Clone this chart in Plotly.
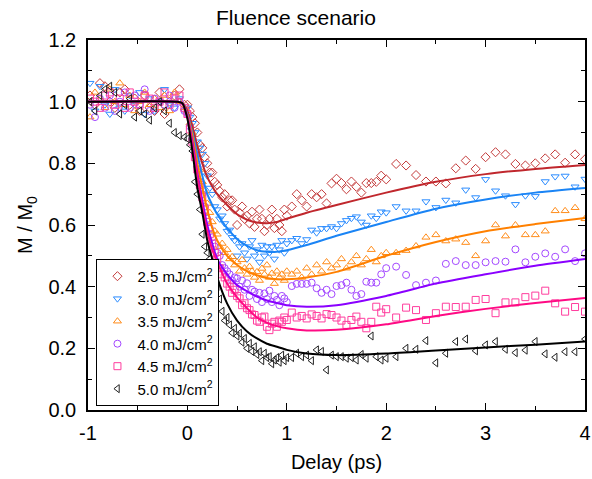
import plotly.graph_objects as go

# ---------------- data ----------------
T_PRE = [-0.98, -0.93, -0.88, -0.83, -0.78, -0.73, -0.68, -0.63, -0.58, -0.53,
         -0.48, -0.43, -0.38, -0.33, -0.28, -0.23, -0.18, -0.13, -0.08, -0.03]
T_FAST = [0.0, 0.025, 0.05, 0.075, 0.1, 0.125, 0.15, 0.175, 0.2, 0.225, 0.25,
          0.275, 0.3, 0.325, 0.35, 0.375, 0.4, 0.425, 0.45, 0.475, 0.5, 0.525,
          0.55, 0.575, 0.6, 0.625, 0.65, 0.675, 0.7, 0.725, 0.75, 0.775, 0.8,
          0.825, 0.85, 0.875, 0.9, 0.925, 0.95, 0.975, 1.0]
T_MID = [1.05, 1.1, 1.15, 1.2, 1.25, 1.3, 1.35, 1.4, 1.45, 1.5, 1.55, 1.6,
         1.65, 1.7, 1.75, 1.8, 1.85, 1.9, 1.95]
T_TAIL = [2.0, 2.1, 2.2, 2.3, 2.4, 2.5, 2.6, 2.7, 2.8, 2.9, 3.0, 3.1, 3.2,
          3.3, 3.4, 3.5, 3.6, 3.7, 3.8, 3.9, 4.0]
DELAY = T_PRE + T_FAST + T_MID + T_TAIL

M_25 = [1.02, 0.99, 1.06, 1.05, 1.00, 0.98, 1.03, 1.04, 0.99, 1.01, 0.97, 1.02, 0.98, 0.97, 1.03, 0.96, 1.00, 1.02, 1.04, 0.99,
        0.99, 0.97, 0.95, 0.93, 0.90, 0.86, 0.85, 0.82, 0.80, 0.77, 0.77, 0.74, 0.73, 0.71, 0.69, 0.70, 0.66, 0.68, 0.68, 0.65,
        0.60, 0.64, 0.66, 0.62, 0.63, 0.605, 0.643, 0.594, 0.62, 0.65, 0.62, 0.58, 0.60, 0.62, 0.65, 0.59, 0.62, 0.60, 0.58, 0.65, 0.63,
        0.66, 0.70, 0.68, 0.66, 0.70, 0.69, 0.70, 0.67, 0.735, 0.75, 0.736, 0.716, 0.741, 0.724, 0.705, 0.736, 0.736, 0.74, 0.76,
        0.748, 0.798, 0.793, 0.762, 0.741, 0.741, 0.735, 0.784, 0.809, 0.782, 0.82, 0.836, 0.829, 0.798, 0.793, 0.80, 0.816, 0.829, 0.802, 0.829, 0.813]
M_30 = [1.06, 0.97, 1.05, 0.99, 0.96, 1.04, 0.98, 0.97, 1.02, 0.99, 1.03, 0.96, 1.01, 0.97, 1.00, 1.04, 0.99, 0.98, 1.01, 0.97,
        0.98, 0.95, 0.93, 0.90, 0.87, 0.85, 0.83, 0.80, 0.76, 0.72, 0.70, 0.66, 0.65, 0.62, 0.63, 0.605, 0.58, 0.584, 0.56, 0.55,
        0.50, 0.53, 0.54, 0.51, 0.49, 0.53, 0.55, 0.50, 0.52, 0.48, 0.535, 0.50, 0.53, 0.51, 0.53, 0.49, 0.535, 0.52, 0.55, 0.51, 0.54,
        0.55, 0.557, 0.54, 0.553, 0.584, 0.575, 0.589, 0.589, 0.595, 0.589, 0.605, 0.615, 0.622, 0.627, 0.61, 0.60, 0.63, 0.622, 0.643,
        0.64, 0.66, 0.646, 0.646, 0.676, 0.657, 0.681, 0.672, 0.714, 0.689, 0.748, 0.711, 0.695, 0.667, 0.695, 0.693, 0.741, 0.757, 0.759, 0.724, 0.749]
M_35 = [0.95, 1.03, 1.01, 0.98, 1.04, 1.00, 1.06, 0.99, 1.02, 0.97, 1.00, 1.03, 0.99, 1.01, 0.98, 1.02, 0.97, 1.03, 1.00, 0.98,
        0.97, 0.93, 0.90, 0.86, 0.82, 0.78, 0.74, 0.71, 0.67, 0.64, 0.61, 0.58, 0.57, 0.53, 0.54, 0.51, 0.52, 0.49, 0.497, 0.47,
        0.48, 0.45, 0.487, 0.46, 0.44, 0.465, 0.45, 0.43, 0.448, 0.42, 0.459, 0.44, 0.47, 0.43, 0.443, 0.41, 0.45, 0.43, 0.44, 0.42, 0.45,
        0.44, 0.45, 0.43, 0.46, 0.44, 0.47, 0.45, 0.48, 0.46, 0.47, 0.49, 0.46, 0.48, 0.50, 0.47, 0.49, 0.52, 0.48, 0.50,
        0.51, 0.51, 0.517, 0.532, 0.56, 0.568, 0.548, 0.554, 0.543, 0.50, 0.548, 0.60, 0.564, 0.60, 0.568, 0.568, 0.58, 0.646, 0.646, 0.656, 0.62]
M_40 = [0.99, 0.95, 1.01, 0.98, 1.02, 0.97, 1.00, 1.03, 0.98, 1.02, 0.99, 1.04, 0.97, 1.01, 1.00, 0.99, 1.02, 0.98, 1.00, 0.97,
        0.96, 0.92, 0.88, 0.83, 0.79, 0.74, 0.70, 0.66, 0.62, 0.59, 0.56, 0.53, 0.51, 0.50, 0.47, 0.46, 0.45, 0.44, 0.42, 0.43,
        0.427, 0.40, 0.42, 0.39, 0.411, 0.37, 0.39, 0.384, 0.36, 0.38, 0.35, 0.378, 0.36, 0.387, 0.35, 0.37, 0.357, 0.34, 0.37, 0.362, 0.35,
        0.402, 0.409, 0.409, 0.409, 0.413, 0.395, 0.38, 0.39, 0.376, 0.402, 0.405, 0.413, 0.39, 0.37, 0.376, 0.416, 0.413, 0.413, 0.44,
        0.46, 0.465, 0.438, 0.405, 0.413, 0.42, 0.474, 0.483, 0.47, 0.47, 0.479, 0.483, 0.481, 0.521, 0.479, 0.497, 0.508, 0.497, 0.521, 0.483, 0.508]
M_45 = [1.01, 1.00, 0.98, 1.02, 1.03, 0.99, 1.01, 0.98, 1.03, 1.00, 0.99, 1.02, 1.01, 0.98, 1.00, 1.03, 0.99, 1.01, 1.02, 0.98,
        0.96, 0.91, 0.87, 0.82, 0.78, 0.73, 0.69, 0.65, 0.61, 0.57, 0.54, 0.51, 0.49, 0.46, 0.44, 0.43, 0.41, 0.40, 0.38, 0.39,
        0.37, 0.362, 0.34, 0.346, 0.33, 0.324, 0.31, 0.308, 0.29, 0.286, 0.30, 0.303, 0.27, 0.259, 0.28, 0.286, 0.27, 0.29, 0.286, 0.30, 0.292,
        0.316, 0.30, 0.305, 0.297, 0.31, 0.305, 0.297, 0.311, 0.308, 0.30, 0.29, 0.276, 0.292, 0.303, 0.286, 0.265, 0.286, 0.335, 0.316,
        0.327, 0.30, 0.332, 0.324, 0.292, 0.314, 0.335, 0.334, 0.335, 0.357, 0.36, 0.314, 0.349, 0.349, 0.366, 0.371, 0.387, 0.346, 0.319, 0.334, 0.319]
M_50 = [1.00, 0.97, 1.02, 1.04, 1.05, 1.03, 0.96, 0.99, 1.01, 0.95, 0.97, 0.96, 0.94, 0.98, 1.00, 0.97, 0.93, 0.90, 0.89, 0.885,
        0.88, 0.86, 0.84, 0.74, 0.70, 0.65, 0.57, 0.53, 0.51, 0.49, 0.45, 0.42, 0.40, 0.36, 0.32, 0.29, 0.30, 0.276, 0.25, 0.265,
        0.24, 0.249, 0.22, 0.232, 0.20, 0.216, 0.19, 0.205, 0.18, 0.189, 0.16, 0.184, 0.17, 0.173, 0.15, 0.162, 0.17, 0.155, 0.178, 0.16, 0.17,
        0.17, 0.184, 0.173, 0.178, 0.16, 0.195, 0.19, 0.13, 0.178, 0.173, 0.173, 0.168, 0.17, 0.162, 0.18, 0.168, 0.24, 0.173, 0.162,
        0.168, 0.173, 0.20, 0.197, 0.225, 0.153, 0.184, 0.222, 0.23, 0.192, 0.211, 0.222, 0.197, 0.186, 0.194, 0.222, 0.182, 0.171, 0.189, 0.189, 0.23]

FIT_T = [-1.0, -0.1, -0.05, 0.0, 0.05, 0.1, 0.15, 0.2, 0.25, 0.3, 0.4, 0.5,
         0.6, 0.7, 0.8, 0.9, 1.0, 1.2, 1.5, 2.0, 2.5, 3.0, 3.5, 4.0]
FIT_25 = [1.0, 1.0, 0.995, 0.97, 0.92, 0.855, 0.80, 0.755, 0.725, 0.70, 0.665, 0.635,
          0.617, 0.608, 0.606, 0.61, 0.62, 0.64, 0.665, 0.705, 0.74, 0.765, 0.782, 0.795]
FIT_30 = [1.0, 1.0, 0.995, 0.96, 0.90, 0.83, 0.76, 0.70, 0.665, 0.635, 0.59, 0.555,
          0.532, 0.518, 0.513, 0.513, 0.518, 0.535, 0.565, 0.61, 0.653, 0.683, 0.705, 0.72]
FIT_35 = [1.0, 1.0, 0.995, 0.955, 0.89, 0.80, 0.72, 0.65, 0.59, 0.55, 0.50, 0.47,
          0.45, 0.437, 0.428, 0.424, 0.424, 0.43, 0.448, 0.50, 0.545, 0.58, 0.603, 0.623]
FIT_40 = [1.0, 1.0, 0.995, 0.95, 0.87, 0.77, 0.68, 0.60, 0.54, 0.49, 0.44, 0.405,
          0.385, 0.368, 0.355, 0.347, 0.34, 0.335, 0.34, 0.37, 0.41, 0.44, 0.468, 0.49]
FIT_45 = [1.0, 1.0, 0.995, 0.95, 0.86, 0.76, 0.66, 0.58, 0.52, 0.48, 0.41, 0.365,
          0.33, 0.30, 0.283, 0.272, 0.265, 0.258, 0.26, 0.278, 0.305, 0.328, 0.347, 0.363]
FIT_50 = [1.0, 1.0, 0.995, 0.945, 0.84, 0.72, 0.64, 0.55, 0.49, 0.43, 0.345, 0.29,
          0.255, 0.232, 0.215, 0.205, 0.195, 0.183, 0.178, 0.183, 0.193, 0.203, 0.212, 0.222]

LABELS = ["2.5 mJ/cm<sup>2</sup>", "3.0 mJ/cm<sup>2</sup>", "3.5 mJ/cm<sup>2</sup>",
          "4.0 mJ/cm<sup>2</sup>", "4.5 mJ/cm<sup>2</sup>", "5.0 mJ/cm<sup>2</sup>"]
X_TICKS = [-1, 0, 1, 2, 3, 4]
X_TICK_TEXT = ["-1", "0", "1", "2", "3", "4"]
Y_TICKS = [0.0, 0.2, 0.4, 0.6, 0.8, 1.0, 1.2]
Y_TICK_TEXT = ["0.0", "0.2", "0.4", "0.6", "0.8", "1.0", "1.2"]

# ---------------- styling ----------------
FONT = "Arial, Liberation Sans, sans-serif"
series = [
    (M_25, FIT_25, "diamond-open", "#c43a3a", "#c0272d"),
    (M_30, FIT_30, "triangle-down-open", "#2b8cff", "#1a84f5"),
    (M_35, FIT_35, "triangle-up-open", "#ff8c1a", "#ff8000"),
    (M_40, FIT_40, "circle-open", "#a347ff", "#8a00ff"),
    (M_45, FIT_45, "square-open", "#ff3d9e", "#ff0a84"),
    (M_50, FIT_50, "triangle-left-open", "#222222", "#000000"),
]

fig = go.Figure()
for (vals, fit, sym, mcol, lcol), lab in zip(series, LABELS):
    fig.add_trace(go.Scatter(
        x=DELAY, y=vals, mode="markers", name=lab,
        marker=dict(symbol=sym, size=7, color=mcol, line=dict(width=1, color=mcol)),
    ))
for (vals, fit, sym, mcol, lcol), lab in zip(series, LABELS):
    fig.add_trace(go.Scatter(
        x=FIT_T, y=fit, mode="lines", showlegend=False, hoverinfo="skip",
        line=dict(color=lcol, width=2, shape="spline", smoothing=0.6),
    ))

axis_common = dict(
    showline=True, linecolor="black", linewidth=1.5, mirror="allticks",
    ticks="inside", ticklen=7, tickwidth=1, tickcolor="black",
    showgrid=False, zeroline=False, ticklabeloverflow="allow",
    tickfont=dict(family=FONT, size=20, color="black"),
)

fig.update_xaxes(
    range=[-1, 4], tickvals=X_TICKS, ticktext=X_TICK_TEXT,
    minor=dict(dtick=0.5, ticks="inside", ticklen=4, tickcolor="black", showgrid=False),
    title=dict(text="Delay (ps)", font=dict(family=FONT, size=20, color="black"), standoff=12),
    ticklabelstandoff=4,
    **axis_common,
)
fig.update_yaxes(
    range=[0, 1.2], tickvals=Y_TICKS, ticktext=Y_TICK_TEXT,
    minor=dict(dtick=0.1, ticks="inside", ticklen=4, tickcolor="black", showgrid=False),
    title=dict(text="M / M<sub>0</sub>", font=dict(family=FONT, size=20, color="black"), standoff=10),
    ticklabelstandoff=6,
    **axis_common,
)

fig.update_layout(
    width=592, height=479,
    margin=dict(l=88, r=7, t=40, b=69, autoexpand=False),
    paper_bgcolor="white", plot_bgcolor="white",
    title=dict(text="Fluence scenario", x=0.5, xref="container", xanchor="center",
               y=1 - 18 / 479, yref="container", yanchor="middle",
               font=dict(family=FONT, size=21, color="black")),
    legend=dict(
        x=0.017, y=0.011, xanchor="left", yanchor="bottom",
        bgcolor="white", bordercolor="black", borderwidth=1,
        font=dict(family=FONT, size=15, color="black"),
        itemwidth=30, tracegroupgap=0,
    ),
    showlegend=True,
)

fig.write_html("out.html")
